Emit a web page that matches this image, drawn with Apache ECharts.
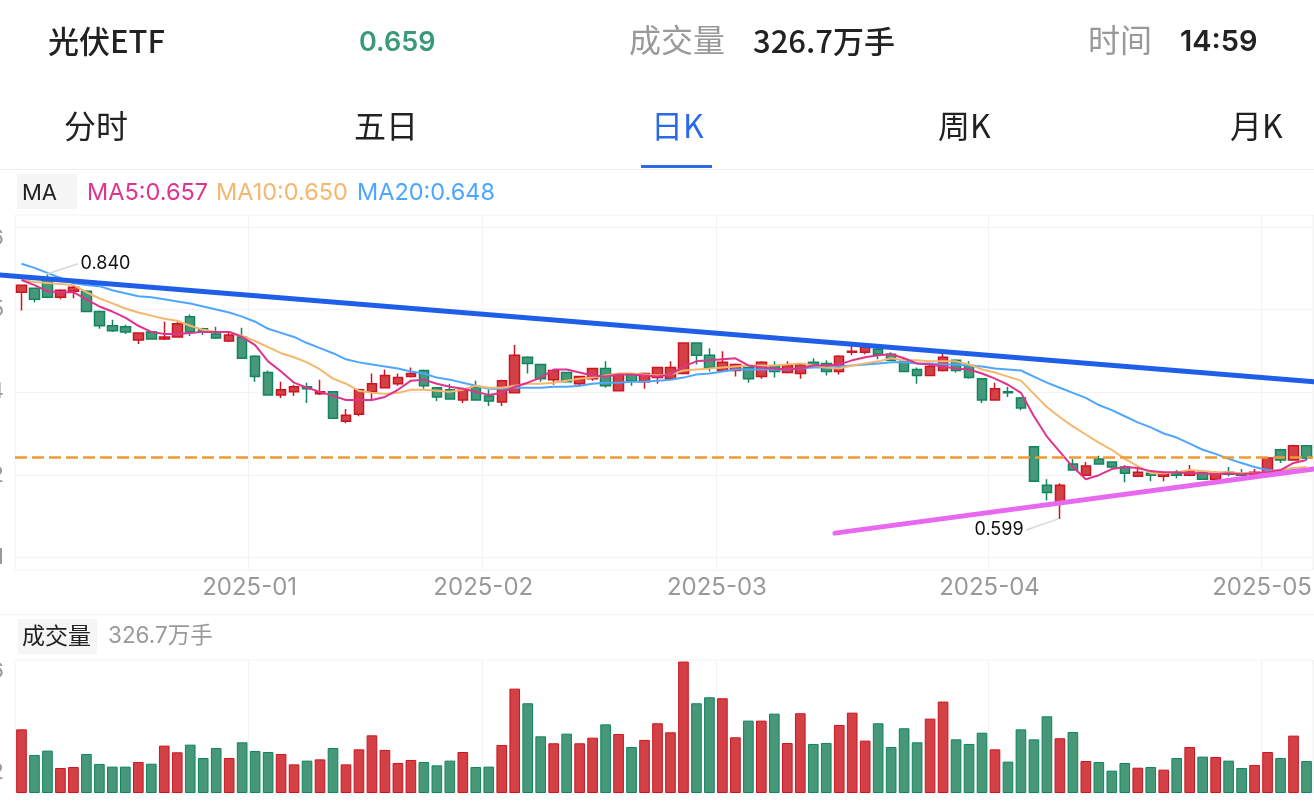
<!DOCTYPE html>
<html>
<head>
<meta charset="utf-8">
<title>光伏ETF</title>
<style>
html,body{margin:0;padding:0;background:#fff;overflow:hidden}
#chart{width:1314px;height:804px}
</style>
<script src="https://cdn.jsdelivr.net/npm/echarts@6/dist/echarts.min.js"></script>
</head>
<body>
<div id="chart"></div>
<script>
var opens = [.822,.826,.834,.817,.823,.823,.803,.789,.788,.775,.783,.776,.778,.798,.786,.781,.774,.778,.759,.743,
  .721,.724,.729,.722,.724,.695,.702,.724,.728,.732,.739,.745,.728,.726,.716,.729,.720,.714,.723,.758,
  .751,.736,.743,.732,.737,.747,.725,.741,.734,.738,.737,.742,.772,.760,.745,.745,.748,.739,.749,.743,
  .742,.753,.752,.744,.763,.763,.766,.761,.754,.746,.740,.745,.755,.750,.737,.716,.724,.718,.670,.632,
  .616,.653,.642,.658,.655,.650,.641,.644,.641,.644,.642,.645,.638,.645,.644,.643,.645,.667,.657,.671];
var closes = [.829,.815,.817,.824,.827,.803,.789,.784,.783,.782,.776,.778,.791,.783,.783,.777,.780,.757,.739,.721,
  .726,.729,.727,.724,.698,.701,.726,.732,.740,.738,.742,.730,.719,.717,.726,.716,.715,.735,.760,.752,
  .737,.745,.734,.739,.747,.730,.741,.735,.742,.748,.748,.772,.760,.748,.753,.751,.737,.753,.744,.750,
  .751,.750,.744,.759,.764,.768,.761,.755,.744,.740,.749,.758,.745,.738,.716,.727,.723,.708,.636,.625,
  .632,.647,.651,.653,.650,.644,.645,.642,.644,.642,.646,.638,.644,.643,.642,.645,.659,.657,.671,.659];
var lows = [.804,.812,.816,.815,.816,.803,.786,.783,.781,.771,.776,.775,.778,.779,.780,.776,.773,.757,.734,.721,
  .718,.720,.713,.721,.698,.693,.700,.716,.728,.730,.738,.727,.715,.717,.713,.716,.710,.710,.723,.742,
  .734,.731,.734,.730,.735,.728,.725,.730,.727,.732,.737,.742,.751,.744,.745,.739,.733,.737,.738,.742,
  .737,.749,.740,.741,.760,.761,.756,.754,.744,.732,.740,.744,.743,.737,.713,.716,.719,.706,.636,.617,
  .599,.647,.642,.653,.649,.635,.641,.636,.636,.639,.641,.638,.638,.641,.642,.643,.645,.654,.657,.657];
var highs = [.829,.826,.840,.825,.829,.824,.804,.795,.790,.782,.783,.793,.793,.800,.787,.788,.782,.787,.760,.745,
  .734,.731,.733,.736,.724,.707,.727,.742,.746,.742,.748,.746,.728,.732,.728,.735,.726,.736,.770,.759,
  .751,.745,.743,.739,.747,.754,.742,.741,.743,.748,.754,.772,.772,.767,.764,.752,.748,.754,.754,.754,
  .752,.757,.755,.760,.769,.769,.768,.763,.757,.748,.751,.762,.756,.754,.737,.733,.729,.719,.670,.638,
  .634,.658,.655,.661,.655,.652,.648,.645,.645,.647,.652,.646,.646,.650,.648,.648,.659,.668,.672,.671];
var volumes = [649,388,432,255,265,398,296,269,269,316,299,483,415,493,357,459,357,517,428,418,
  398,292,330,343,459,292,445,588,439,306,337,316,282,330,418,265,269,490,1064,915,
  578,507,605,507,564,700,602,469,541,711,619,1340,915,976,966,568,738,738,809,510,
  813,500,510,694,819,534,711,469,660,517,758,932,547,500,615,445,320,649,547,782,
  558,622,326,316,228,306,258,265,238,357,469,371,367,330,255,286,418,357,585,326.7];
var ma5 = [.834,.829,.823,.822,.822,.815,.808,.803,.797,.789,.783,.781,.781,.782,.783,.783,.783,.778,.770,.754,
  .744,.733,.728,.724,.720,.716,.716,.716,.719,.726,.735,.736,.732,.729,.727,.724,.721,.723,.729,.733,
  .738,.746,.746,.743,.740,.739,.741,.741,.740,.739,.741,.749,.754,.755,.756,.757,.750,.748,.747,.746,
  .747,.750,.750,.751,.755,.758,.760,.761,.757,.752,.751,.749,.747,.746,.742,.737,.731,.723,.700,.680,
  .665,.650,.638,.642,.648,.650,.649,.646,.645,.645,.644,.644,.643,.644,.643,.644,.645,.647,.654,.657];
var ma10 = [.834,.832,.831,.830,.829,.822,.816,.811,.806,.802,.799,.796,.794,.789,.785,.783,.783,.779,.774,.768,
  .762,.758,.753,.746,.737,.732,.725,.723,.722,.723,.726,.726,.725,.724,.726,.730,.728,.728,.730,.732,
  .732,.733,.735,.737,.738,.740,.742,.742,.741,.740,.741,.745,.746,.747,.748,.749,.750,.750,.750,.751,
  .752,.750,.748,.747,.750,.752,.754,.757,.755,.755,.754,.754,.754,.751,.746,.743,.739,.735,.722,.709,
  .699,.690,.682,.674,.667,.658,.651,.644,.644,.645,.647,.646,.645,.645,.644,.644,.645,.647,.649,.650];
var ma20 = [.850,.846,.841,.836,.831,.829,.828,.824,.821,.818,.817,.815,.813,.811,.808,.805,.802,.798,.793,.786,
  .782,.778,.772,.767,.762,.756,.753,.751,.749,.747,.744,.742,.738,.736,.733,.730,.727,.727,.728,.728,
  .728,.729,.729,.730,.732,.733,.733,.734,.734,.735,.736,.738,.741,.742,.744,.746,.746,.746,.746,.746,
  .747,.748,.748,.749,.750,.751,.752,.753,.753,.752,.752,.751,.751,.750,.749,.747,.746,.745,.739,.733,
  .728,.723,.718,.711,.706,.700,.694,.689,.683,.679,.673,.667,.663,.658,.654,.650,.647,.646,.647,.648];
var monthIndex = [18, 36, 54, 75, 96];
var monthLabels = ['2025-01', '2025-02', '2025-03', '2025-04', '2025-05'];
var priceTicks = [0.561, 0.642, 0.724, 0.805, 0.886];
var volumeTicks = [212, 1356];
var lastPrice = 0.659;
var highPoint = [2, 0.840];
var highLabelAt = [4.4, 0.850];
var lowPoint = [80, 0.599];
var lowLabelAt = [77.5, 0.588];
var blueTrend = [[-1.62, 0.839], [99.7, 0.734]];
var pinkTrend = [[62.76, 0.585], [99.7, 0.648]];

var UP = 'rgb(211,64,70)', UP_LINE = '#cc1520', DOWN = 'rgb(70,152,120)', DOWN_LINE = '#0f8560';
var FONT = 'Inter, "Noto Sans CJK SC", sans-serif';
var CJK = '"Noto Sans CJK SC", Inter, sans-serif';
var GRID_LINE = '#f3f3f3';

var categories = [], candleData = [], volumeData = [];
for (var i = 0; i < opens.length; i++) {
    var pos = monthIndex.indexOf(i);
    categories.push(pos >= 0 ? monthLabels[pos] : String(i));
    candleData.push([opens[i], closes[i], lows[i], highs[i]]);
    var up = closes[i] >= opens[i];
    volumeData.push({
        value: volumes[i],
        itemStyle: { color: up ? UP : DOWN, borderColor: up ? UP_LINE : DOWN_LINE, borderWidth: 1 }
    });
}

function isMonthStart(index) {
    return monthIndex.indexOf(index) >= 0;
}

function text(str, left, top, size, color, weight, family) {
    return {
        text: str, left: left, top: top,
        padding: 0,
        textStyle: { fontSize: size, color: color, fontWeight: weight || 400, fontFamily: family || CJK }
    };
}

function maSeries(name, data, color) {
    return {
        name: name, type: 'line', data: data,
        xAxisIndex: 0, yAxisIndex: 0,
        showSymbol: false, silent: true, z: 5,
        lineStyle: { width: 2, color: color }
    };
}

function trendSeries(data, color) {
    return {
        type: 'line', data: data,
        xAxisIndex: 2, yAxisIndex: 2,
        showSymbol: false, silent: true, z: 8,
        lineStyle: { width: 5, color: color, cap: 'round' }
    };
}

function leaderSeries(from, to, position) {
    return {
        type: 'line',
        xAxisIndex: 2, yAxisIndex: 2,
        symbol: 'circle', symbolSize: 1, showSymbol: true, showAllSymbol: true,
        itemStyle: { color: 'rgba(0,0,0,0)' },
        data: [
            { value: from, label: { show: false } },
            {
                value: to,
                label: {
                    show: true, position: position, distance: 2,
                    formatter: from[1].toFixed(3),
                    fontSize: 18, color: '#111', fontFamily: FONT
                }
            }
        ],
        silent: true, z: 9,
        lineStyle: { width: 1.5, color: '#d8d8d8' }
    };
}

var chart = echarts.init(document.getElementById('chart'));

var option = {
    animation: false,
    backgroundColor: '#fff',
    title: [
        text('光伏ETF', 48, 26, 31, '#222', 500),
        text('0.659', 359, 29, 27, '#3a9a78', 600, FONT),
        text('成交量', 629, 24, 32, '#999'),
        text('326.7万手', 753, 26, 31, '#222', 500),
        text('时间', 1088, 24, 32, '#999'),
        text('14:59', 1180, 28, 29, '#222', 600, FONT),
        text('分时', 64, 110, 32, '#222'),
        text('五日', 354, 110, 32, '#222'),
        text('日K', 651, 110, 32, '#2a6ae8'),
        text('周K', 938, 110, 32, '#222'),
        text('月K', 1230, 110, 32, '#222'),
        text('MA', 22, 182, 22, '#222', 400, FONT),
        text('MA5:0.657', 87, 181, 23.5, '#e0338d', 400, FONT),
        text('MA10:0.650', 216, 181, 23.5, '#f5b76d', 400, FONT),
        text('MA20:0.648', 357, 181, 23.5, '#4da6ff', 400, FONT),
        text('成交量', 22, 624, 23, '#222'),
        text('326.7万手', 108, 625, 22.5, '#999', 400, FONT)
    ],
    graphic: [
        { type: 'rect', z: -1, shape: { x: 641, y: 165, width: 71, height: 3 }, style: { fill: '#2a6ae8' } },
        { type: 'rect', z: -1, shape: { x: 0, y: 169, width: 1314, height: 1 }, style: { fill: '#ececec' } },
        { type: 'rect', z: -1, shape: { x: 17, y: 174, width: 60, height: 35 }, style: { fill: '#f5f5f5' } },
        { type: 'rect', z: -1, shape: { x: 0, y: 614, width: 1314, height: 1 }, style: { fill: '#f3f3f3' } },
        { type: 'rect', z: -1, shape: { x: 18, y: 619, width: 79, height: 35 }, style: { fill: '#f5f5f5' } }
    ],
    grid: [
        { left: 15, right: 1, top: 215, height: 355, outerBoundsMode: 'none', show: true, borderColor: GRID_LINE, borderWidth: 1 },
        { left: 15, right: 1, top: 660, height: 133, outerBoundsMode: 'none', show: true, borderColor: GRID_LINE, borderWidth: 1 },
        { left: 0, right: 0, top: 215, height: 355, outerBoundsMode: 'none', show: false }
    ],
    xAxis: [
        {
            type: 'category', gridIndex: 0, data: categories,
            axisLine: { show: false }, axisTick: { show: false },
            axisLabel: {
                interval: isMonthStart, hideOverlap: false, margin: 6,
                padding: [0, 11, 0, 0],
                fontSize: 24, color: '#999', fontFamily: FONT
            },
            splitLine: { show: true, interval: isMonthStart, lineStyle: { color: GRID_LINE, width: 1 } }
        },
        {
            type: 'category', gridIndex: 1, data: categories,
            axisLine: { show: false }, axisTick: { show: false }, axisLabel: { show: false },
            splitLine: { show: true, interval: isMonthStart, lineStyle: { color: GRID_LINE, width: 1 } }
        },
        { type: 'value', gridIndex: 2, show: false, min: -1.62, max: 99.7 }
    ],
    yAxis: [
        {
            type: 'value', gridIndex: 0, scale: true, min: 0.5487, max: 0.898,
            axisLine: { show: false }, axisTick: { show: false, customValues: priceTicks },
            axisLabel: {
                customValues: priceTicks,
                formatter: function (v) { return v.toFixed(3); },
                margin: 11, fontSize: 22, color: '#999', fontFamily: FONT,
                verticalAlignMaxLabel: 'top'
            },
            splitLine: { show: true, lineStyle: { color: GRID_LINE, width: 1 } }
        },
        {
            type: 'value', gridIndex: 1, min: 0, max: 1356,
            axisLine: { show: false }, axisTick: { show: false, customValues: volumeTicks },
            axisLabel: {
                customValues: volumeTicks,
                formatter: function (v) { return String(v); },
                margin: 11, fontSize: 22, color: '#999', fontFamily: FONT,
                verticalAlignMaxLabel: 'top'
            },
            splitLine: { show: false }
        },
        { type: 'value', gridIndex: 2, show: false, min: 0.5487, max: 0.898 }
    ],
    series: [
        {
            name: 'K', type: 'candlestick', data: candleData,
            xAxisIndex: 0, yAxisIndex: 0,
            barWidth: 10, silent: true, z: 3,
            itemStyle: { color: UP, color0: DOWN, borderColor: UP_LINE, borderColor0: DOWN_LINE, borderWidth: 1.5 },
            markLine: {
                silent: true, symbol: 'none', animation: false,
                label: { show: false },
                lineStyle: { type: [12, 5], color: '#ef9a34', width: 2.5 },
                data: [{ yAxis: lastPrice }],
                z: 7
            }
        },
        maSeries('MA20', ma20, '#4da6ff'),
        maSeries('MA10', ma10, '#f5b76d'),
        maSeries('MA5', ma5, '#e0338d'),
        trendSeries(blueTrend, '#1f5ee8'),
        trendSeries(pinkTrend, '#e868ef'),
        leaderSeries(highPoint, highLabelAt, 'right'),
        leaderSeries(lowPoint, lowLabelAt, 'left'),
        {
            name: '成交量', type: 'bar', data: volumeData,
            xAxisIndex: 1, yAxisIndex: 1,
            barWidth: '82%', silent: true
        }
    ]
};

chart.setOption(option);
</script>
</body>
</html>
